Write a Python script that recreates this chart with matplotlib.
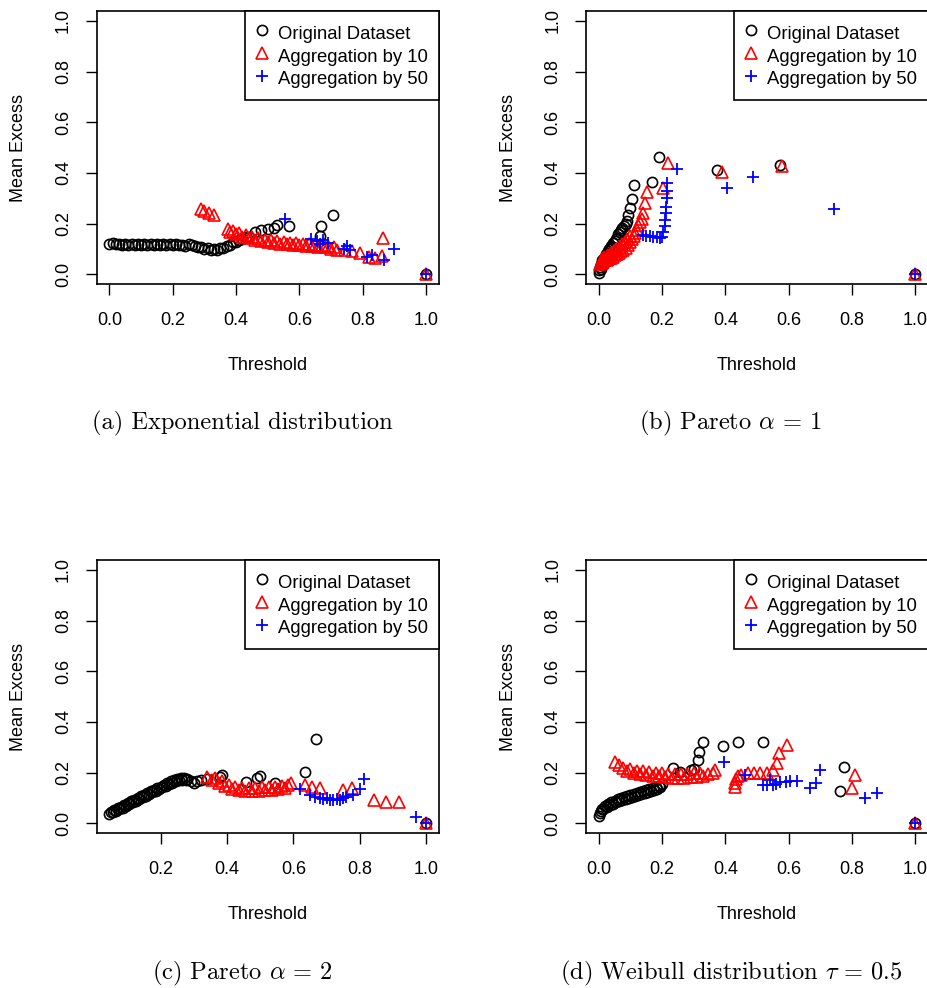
import matplotlib
matplotlib.use('Agg')
from matplotlib import pyplot as plt
from matplotlib.ticker import MultipleLocator, FormatStrFormatter

plt.rcParams['font.family'] = ['Liberation Sans', 'DejaVu Sans']
plt.rcParams['mathtext.fontset'] = 'cm'

# (a) Exponential distribution
exp_orig_x = [0.00, 0.01, 0.02, 0.03, 0.04, 0.05, 0.06, 0.07, 0.08, 0.09,
              0.10, 0.11, 0.12, 0.13, 0.14, 0.15, 0.16, 0.17, 0.18, 0.19,
              0.20, 0.21, 0.22, 0.23, 0.24, 0.25, 0.26, 0.27, 0.28, 0.29,
              0.30, 0.31, 0.32, 0.33, 0.34, 0.35, 0.36, 0.37, 0.38, 0.39,
              0.40, 0.41, 0.42, 0.43, 0.44,
              0.46, 0.48, 0.50, 0.52, 0.53, 0.567, 0.665, 0.667, 0.705, 1.00]
exp_orig_y = [0.120, 0.123, 0.118, 0.121, 0.117, 0.120, 0.116, 0.120, 0.115, 0.119,
              0.116, 0.119, 0.115, 0.118, 0.114, 0.118, 0.115, 0.119, 0.114, 0.118,
              0.115, 0.119, 0.114, 0.117, 0.113, 0.118, 0.114, 0.113, 0.108, 0.107,
              0.101, 0.103, 0.097, 0.100, 0.097, 0.103, 0.103, 0.112, 0.116, 0.126,
              0.128, 0.137, 0.138, 0.147, 0.148,
              0.168, 0.175, 0.177, 0.181, 0.194, 0.192, 0.150, 0.190, 0.234, 0.0]
exp_agg10_x = [0.288, 0.300, 0.315, 0.330,
               0.375, 0.380, 0.39, 0.40, 0.41, 0.42, 0.43, 0.44, 0.45, 0.46,
               0.47, 0.48, 0.49, 0.50, 0.51, 0.52, 0.53, 0.54, 0.55, 0.56,
               0.57, 0.58, 0.59, 0.60, 0.61, 0.62, 0.63, 0.64, 0.65, 0.66,
               0.67, 0.68, 0.69, 0.70, 0.71, 0.72,
               0.745, 0.765, 0.79, 0.82, 0.84, 0.86, 0.863, 1.00]
exp_agg10_y = [0.257, 0.250, 0.240, 0.232,
               0.178, 0.168, 0.172, 0.158, 0.162, 0.148, 0.154, 0.142, 0.146, 0.135,
               0.142, 0.131, 0.137, 0.128, 0.134, 0.124, 0.131, 0.121, 0.128, 0.118,
               0.125, 0.116, 0.122, 0.114, 0.121, 0.111, 0.118, 0.110, 0.117, 0.107,
               0.114, 0.106, 0.112, 0.101, 0.108, 0.097,
               0.095, 0.090, 0.083, 0.070, 0.066, 0.072, 0.142, 0.0]
exp_agg50_x = [0.556, 0.636, 0.655, 0.665, 0.675, 0.690, 0.740, 0.750, 0.760,
               0.815, 0.830, 0.868, 0.900, 1.00]
exp_agg50_y = [0.218, 0.138, 0.130, 0.120, 0.135, 0.125, 0.100, 0.110, 0.095,
               0.070, 0.075, 0.055, 0.100, 0.0]

# (b) Pareto alpha = 1
par1_orig_x = [0.000, 0.002, 0.004, 0.006, 0.008, 0.010, 0.012, 0.014, 0.016, 0.019,
               0.022, 0.025, 0.028, 0.031, 0.034, 0.037, 0.040, 0.043, 0.046, 0.050,
               0.054, 0.058, 0.062, 0.066, 0.070, 0.075, 0.080, 0.085, 0.090,
               0.094, 0.099, 0.104, 0.113, 0.167, 0.191, 0.373, 0.573, 1.000]
par1_orig_y = [0.005, 0.015, 0.028, 0.020, 0.040, 0.035, 0.055, 0.048, 0.065, 0.060,
               0.078, 0.072, 0.090, 0.085, 0.100, 0.098, 0.112, 0.108, 0.122, 0.130,
               0.138, 0.145, 0.160, 0.165, 0.175, 0.182, 0.192, 0.200, 0.212,
               0.234, 0.260, 0.296, 0.352, 0.365, 0.461, 0.411, 0.431, 0.0]
par1_agg10_x = [0.005, 0.010, 0.012, 0.015, 0.018, 0.020, 0.025, 0.028, 0.030, 0.035,
                0.038, 0.040, 0.046, 0.048, 0.052, 0.056, 0.058, 0.064, 0.066, 0.070,
                0.074, 0.078, 0.082, 0.085, 0.090, 0.092, 0.099, 0.100, 0.105, 0.110,
                0.115, 0.120, 0.125, 0.130, 0.136, 0.141, 0.146, 0.152, 0.202, 0.220,
                0.388, 0.578, 1.000]
par1_agg10_y = [0.040, 0.045, 0.060, 0.050, 0.068, 0.055, 0.058, 0.075, 0.060, 0.063,
                0.082, 0.066, 0.070, 0.090, 0.075, 0.098, 0.080, 0.085, 0.108, 0.090,
                0.118, 0.096, 0.128, 0.105, 0.138, 0.115, 0.129, 0.150, 0.140, 0.150,
                0.162, 0.175, 0.194, 0.207, 0.220, 0.240, 0.280, 0.326, 0.339, 0.438,
                0.405, 0.427, 0.0]
par1_agg50_x = [0.141, 0.150, 0.162, 0.172, 0.183, 0.193, 0.200, 0.204, 0.208, 0.210,
                0.212, 0.213, 0.215, 0.216, 0.217, 0.246, 0.404, 0.488, 0.743, 1.000]
par1_agg50_y = [0.155, 0.152, 0.150, 0.148, 0.147, 0.145, 0.148, 0.168, 0.190, 0.214,
                0.240, 0.267, 0.300, 0.330, 0.359, 0.414, 0.339, 0.385, 0.256, 0.0]

# (c) Pareto alpha = 2
par2_orig_x = [0.045, 0.050, 0.055, 0.060, 0.065, 0.070, 0.075, 0.080, 0.085, 0.090,
               0.095, 0.100, 0.105, 0.110, 0.115, 0.120, 0.125, 0.130, 0.135, 0.140,
               0.145, 0.150, 0.155, 0.160, 0.165, 0.170, 0.175, 0.180, 0.185, 0.190,
               0.195, 0.200, 0.205, 0.210, 0.215, 0.220, 0.225, 0.230, 0.235, 0.240,
               0.245, 0.250, 0.255, 0.260, 0.265, 0.270, 0.275, 0.280,
               0.290, 0.300, 0.310, 0.320, 0.340, 0.380, 0.386, 0.456, 0.490, 0.500,
               0.546, 0.634, 0.669, 1.000]
par2_orig_y = [0.037, 0.045, 0.043, 0.052, 0.049, 0.059, 0.056, 0.066, 0.062, 0.073,
               0.069, 0.079, 0.076, 0.086, 0.082, 0.093, 0.089, 0.099, 0.095, 0.106,
               0.102, 0.112, 0.109, 0.119, 0.115, 0.126, 0.122, 0.132, 0.128, 0.139,
               0.135, 0.145, 0.142, 0.152, 0.148, 0.159, 0.155, 0.165, 0.160, 0.170,
               0.166, 0.175, 0.170, 0.178, 0.172, 0.177, 0.170, 0.173,
               0.165, 0.158, 0.166, 0.170, 0.175, 0.183, 0.190, 0.164, 0.178, 0.185,
               0.160, 0.201, 0.331, 0.0]
par2_agg10_x = [0.340, 0.355, 0.365, 0.375, 0.385, 0.395, 0.405, 0.415, 0.425, 0.435,
                0.445, 0.455, 0.465, 0.475, 0.485, 0.495, 0.505, 0.515, 0.525, 0.535,
                0.545, 0.555, 0.565, 0.575, 0.585, 0.594, 0.636, 0.655, 0.680, 0.750,
                0.776, 0.842, 0.879, 0.917, 1.000]
par2_agg10_y = [0.184, 0.172, 0.178, 0.160, 0.165, 0.146, 0.152, 0.136, 0.145, 0.131,
                0.141, 0.128, 0.139, 0.127, 0.140, 0.129, 0.142, 0.130, 0.143, 0.132,
                0.144, 0.134, 0.147, 0.138, 0.150, 0.160, 0.151, 0.145, 0.140, 0.131,
                0.138, 0.092, 0.085, 0.085, 0.0]
par2_agg50_x = [0.619, 0.651, 0.665, 0.680, 0.690, 0.700, 0.710, 0.720, 0.730, 0.740,
                0.750, 0.760, 0.781, 0.800, 0.814, 0.970, 1.000]
par2_agg50_y = [0.134, 0.112, 0.105, 0.100, 0.095, 0.100, 0.092, 0.090, 0.095, 0.090,
                0.100, 0.105, 0.112, 0.134, 0.174, 0.024, 0.0]

# (d) Weibull tau = 0.5
weib_orig_x = [0.000, 0.003, 0.006, 0.010, 0.015, 0.020, 0.025, 0.030, 0.035, 0.040,
               0.045, 0.050, 0.055, 0.060, 0.065, 0.070, 0.075, 0.080, 0.085, 0.090,
               0.095, 0.100, 0.105, 0.110, 0.115, 0.120, 0.125, 0.130, 0.135, 0.140,
               0.145, 0.150, 0.155, 0.160, 0.165, 0.170, 0.175, 0.180, 0.185, 0.190,
               0.195, 0.200,
               0.234, 0.257, 0.290, 0.300, 0.315, 0.317, 0.328, 0.394, 0.441, 0.520,
               0.762, 0.775, 1.000]
weib_orig_y = [0.028, 0.040, 0.048, 0.055, 0.058, 0.068, 0.065, 0.076, 0.071, 0.083,
               0.077, 0.089, 0.082, 0.094, 0.086, 0.099, 0.091, 0.103, 0.095, 0.107,
               0.099, 0.111, 0.103, 0.115, 0.106, 0.119, 0.110, 0.123, 0.114, 0.127,
               0.118, 0.131, 0.122, 0.135, 0.126, 0.139, 0.131, 0.143, 0.136, 0.148,
               0.142, 0.153,
               0.217, 0.204, 0.210, 0.215, 0.250, 0.283, 0.320, 0.306, 0.322, 0.322,
               0.129, 0.223, 0.0]
weib_agg10_x = [0.051, 0.065, 0.078, 0.090, 0.100, 0.110, 0.120, 0.130, 0.140, 0.150,
                0.160, 0.170, 0.180, 0.190, 0.200, 0.210, 0.220, 0.230, 0.240, 0.250,
                0.260, 0.270, 0.280, 0.290, 0.300, 0.310, 0.320, 0.330, 0.345, 0.360,
                0.367, 0.430, 0.432, 0.435, 0.440, 0.450, 0.470, 0.490, 0.510, 0.530,
                0.552, 0.562, 0.571, 0.596, 0.799, 0.810, 1.000]
weib_agg10_y = [0.243, 0.228, 0.217, 0.205, 0.214, 0.198, 0.208, 0.193, 0.205, 0.190,
                0.203, 0.187, 0.200, 0.185, 0.197, 0.182, 0.196, 0.180, 0.194, 0.179,
                0.193, 0.180, 0.196, 0.182, 0.199, 0.184, 0.198, 0.186, 0.194, 0.200,
                0.210, 0.145, 0.160, 0.175, 0.185, 0.190, 0.197, 0.197, 0.200, 0.200,
                0.210, 0.237, 0.276, 0.309, 0.138, 0.190, 0.0]
weib_agg50_x = [0.396, 0.462, 0.518, 0.530, 0.540, 0.552, 0.560, 0.573, 0.590, 0.605,
                0.625, 0.667, 0.687, 0.699, 0.841, 0.878, 1.000]
weib_agg50_y = [0.243, 0.190, 0.151, 0.151, 0.170, 0.151, 0.155, 0.164, 0.164, 0.165,
                0.168, 0.138, 0.160, 0.210, 0.099, 0.120, 0.0]

captions = ['(a) Exponential distribution', r'(b) Pareto $\alpha\,=\,1$',
            r'(c) Pareto $\alpha\,=\,2$', r'(d) Weibull distribution $\tau\,=\,0.5$']

W, H = 927, 988


def mean_excess_panel(rect, orig, agg10, agg50):
    ax = fig.add_axes(rect)
    ax.plot(orig[0], orig[1], linestyle='none', marker='o', markersize=7.3,
            markerfacecolor='none', markeredgecolor='black', markeredgewidth=1.2,
            label='Original Dataset')
    ax.plot(agg10[0], agg10[1], linestyle='none', marker='^', markersize=9,
            markerfacecolor='none', markeredgecolor='red', markeredgewidth=1.2,
            label='Aggregation by 10')
    ax.plot(agg50[0], agg50[1], linestyle='none', marker='+', markersize=9,
            markeredgecolor='blue', markeredgewidth=1.3,
            label='Aggregation by 50')
    ax.margins(x=0.04)
    ax.set_ylim(-0.04, 1.04)
    ax.xaxis.set_major_locator(MultipleLocator(0.2))
    ax.xaxis.set_major_formatter(FormatStrFormatter('%.1f'))
    ax.set_yticks([0.0, 0.2, 0.4, 0.6, 0.8, 1.0])
    ax.yaxis.set_major_formatter(FormatStrFormatter('%.1f'))
    ax.tick_params(direction='out', length=7.7, width=1.0, labelsize=13)
    ax.tick_params(axis='x', pad=12)
    ax.tick_params(axis='y', pad=10, labelrotation=90)
    plt.setp(ax.get_yticklabels(), va='center')
    for s in ax.spines.values():
        s.set_linewidth(1.2)
    ax.set_xlabel('Threshold', fontsize=13, labelpad=20)
    ax.set_ylabel('Mean Excess', fontsize=13, labelpad=20)
    leg = ax.legend(loc='upper right', borderaxespad=0, fancybox=False,
                    edgecolor='black', framealpha=1, fontsize=13.3, numpoints=1,
                    handlelength=0.64, handleheight=1.5, handletextpad=0.55,
                    borderpad=0.6, labelspacing=0.0)
    leg.get_frame().set_linewidth(1.2)
    return ax


fig = plt.figure(figsize=(W / 100, H / 100), dpi=100)

left_x, right_x, ax_w = 96.7 / W, 586 / W, 342 / W
top_y, bot_y, ax_h = 1 - 284.4 / H, 1 - 833.4 / H, 273.7 / H

mean_excess_panel([left_x, top_y, ax_w, ax_h], (exp_orig_x, exp_orig_y),
                  (exp_agg10_x, exp_agg10_y), (exp_agg50_x, exp_agg50_y))
mean_excess_panel([right_x, top_y, ax_w, ax_h], (par1_orig_x, par1_orig_y),
                  (par1_agg10_x, par1_agg10_y), (par1_agg50_x, par1_agg50_y))
mean_excess_panel([left_x, bot_y, ax_w, ax_h], (par2_orig_x, par2_orig_y),
                  (par2_agg10_x, par2_agg10_y), (par2_agg50_x, par2_agg50_y))
mean_excess_panel([right_x, bot_y, ax_w, ax_h], (weib_orig_x, weib_orig_y),
                  (weib_agg10_x, weib_agg10_y), (weib_agg50_x, weib_agg50_y))

cap_pos = [(242, 423.5), (730.5, 423.5), (242, 973.5), (731, 973.5)]
for (cx, cy), cap in zip(cap_pos, captions):
    fig.text(cx / W, 1 - cy / H, cap, family='cmr10', fontsize=17.6,
             ha='center', va='center')

fig.savefig('out.png', dpi=100)
